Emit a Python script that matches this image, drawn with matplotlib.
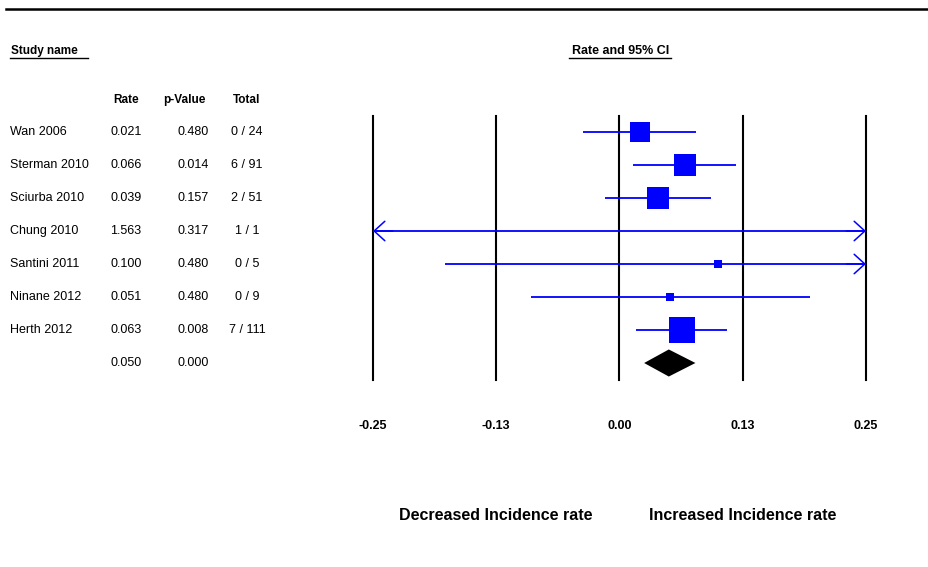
import numpy as np
import matplotlib
matplotlib.use("Agg")
import matplotlib.pyplot as plt
from matplotlib.lines import Line2D
from matplotlib.transforms import blended_transform_factory

# ---------------- data ----------------
studies = ["Wan 2006", "Sterman 2010", "Sciurba 2010", "Chung 2010",
           "Santini 2011", "Ninane 2012", "Herth 2012"]
rate = [0.021, 0.066, 0.039, 1.563, 0.100, 0.051, 0.063]
lower = [-0.037, 0.014, -0.015, -1.500, -0.177, -0.090, 0.017]
upper = [0.078, 0.118, 0.093, 4.626, 0.377, 0.193, 0.109]
p_values = [0.480, 0.014, 0.157, 0.317, 0.480, 0.480, 0.008]
events = [0, 6, 2, 1, 0, 0, 7]
totals = [24, 91, 51, 1, 5, 9, 111]
weights = [19.1, 23.2, 21.8, 0.0, 3.4, 3.1, 29.6]   # relative weight (%)
summary_rate = 0.050
summary_lower = 0.025
summary_upper = 0.077
summary_p = 0.000
ticks = [-0.25, -0.125, 0.0, 0.125, 0.25]
tick_labels = ["-0.25", "-0.13", "0.00", "0.13", "0.25"]
left_label = "Decreased Incidence rate"
right_label = "Increased Incidence rate"

# ---------------- figure ----------------
plt.rcParams['font.family'] = ['Liberation Sans', 'DejaVu Sans']
W, H = 929, 567
fig = plt.figure(figsize=(W / 100, H / 100), dpi=100)

def fx(px):
    return px / W

def fy(py):
    return 1 - py / H

XMIN, XMAX = -0.25, 0.25
ax_left, ax_right = 373, 866
ax_top, ax_bot = 115.5, 379.5
ax = fig.add_axes([fx(ax_left), fy(ax_bot), fx(ax_right - ax_left), (ax_bot - ax_top) / H])
n = len(studies)
ax.set_xlim(XMIN, XMAX)
ax.set_ylim(n + 0.5, -0.5)
for s in ax.spines.values():
    s.set_visible(False)
ax.set_yticks([])
ax.set_xticks(ticks)
ax.set_xticklabels(tick_labels, fontsize=9, fontweight='bold')
ax.tick_params(axis='x', length=0, pad=29)

# vertical grid lines
for t in ticks:
    ax.axvline(t, color='black', lw=1.5, zorder=1, clip_on=False)

blue = '#0000FF'
hs = 'head_length=0.55,head_width=0.5'
for i in range(n):
    lo = max(lower[i], XMIN)
    hi = min(upper[i], XMAX)
    ax.plot([lo, hi], [i, i], color=blue, lw=1.3, zorder=3, solid_capstyle='butt',
            clip_on=False)
    if lower[i] < XMIN:
        ax.annotate('', xy=(lo, i), xytext=(lo + 0.02, i),
                    arrowprops=dict(arrowstyle='->,' + hs, color=blue, lw=1.1,
                                    shrinkA=0, shrinkB=0, mutation_scale=14), zorder=3)
    if upper[i] > XMAX:
        ax.annotate('', xy=(hi, i), xytext=(hi - 0.02, i),
                    arrowprops=dict(arrowstyle='->,' + hs, color=blue, lw=1.1,
                                    shrinkA=0, shrinkB=0, mutation_scale=14), zorder=3)
    if weights[i] > 0 and XMIN <= rate[i] <= XMAX:
        side_px = 4.67 * np.sqrt(weights[i])
        ax.plot(rate[i], i, marker='s', color=blue, markersize=side_px * 0.72,
                markeredgewidth=0, zorder=4)

# summary diamond
hd = 0.41
ax.fill([summary_lower, summary_rate, summary_upper, summary_rate],
        [n, n - hd, n, n + hd], color='black', zorder=4, lw=0)

# bottom labels
tr_ax = blended_transform_factory(ax.transData, fig.transFigure)
ax.text(ticks[1], fy(515), left_label, transform=tr_ax, ha='center', va='center',
        fontsize=11.5, fontweight='bold')
ax.text(ticks[3], fy(515), right_label, transform=tr_ax, ha='center', va='center',
        fontsize=11.5, fontweight='bold')

# ---------------- text columns ----------------
tr = blended_transform_factory(fig.transFigure, ax.transData)
fs = 9
for i in range(n):
    fig.text(fx(10), i, studies[i], transform=tr, ha='left', va='center', fontsize=fs)
    fig.text(fx(126), i, f"{rate[i]:.3f}", transform=tr, ha='center', va='center', fontsize=fs)
    fig.text(fx(209), i, f"{p_values[i]:.3f}", transform=tr, ha='right', va='center', fontsize=fs)
    fig.text(fx(247), i, f"{events[i]} / {totals[i]}", transform=tr, ha='center', va='center', fontsize=fs)
fig.text(fx(126), n, f"{summary_rate:.3f}", transform=tr, ha='center', va='center', fontsize=fs)
fig.text(fx(209), n, f"{summary_p:.3f}", transform=tr, ha='right', va='center', fontsize=fs)

# column headers
fig.text(fx(126), fy(100), "Rate", ha='center', va='center', fontsize=8.5, fontweight='bold')
fig.text(fx(184), fy(100), "p-Value", ha='center', va='center', fontsize=8.5, fontweight='bold')
fig.text(fx(247), fy(100), "Total", ha='center', va='center', fontsize=8.5, fontweight='bold')

# section headers with underline
fig.text(fx(11), fy(51), "Study name", ha='left', va='center', fontsize=8.5, fontweight='bold')
fig.add_artist(Line2D([fx(10), fx(88)], [fy(58), fy(58)], color='black', lw=1.0))
fig.text(fx(621), fy(51), "Rate and 95% CI", ha='center', va='center', fontsize=9, fontweight='bold')
fig.add_artist(Line2D([fx(569), fx(671)], [fy(58), fy(58)], color='black', lw=1.0))

# top rule
fig.add_artist(Line2D([fx(6), fx(929)], [fy(9), fy(9)], color='black', lw=1.8))

fig.savefig("out.png", dpi=100)
